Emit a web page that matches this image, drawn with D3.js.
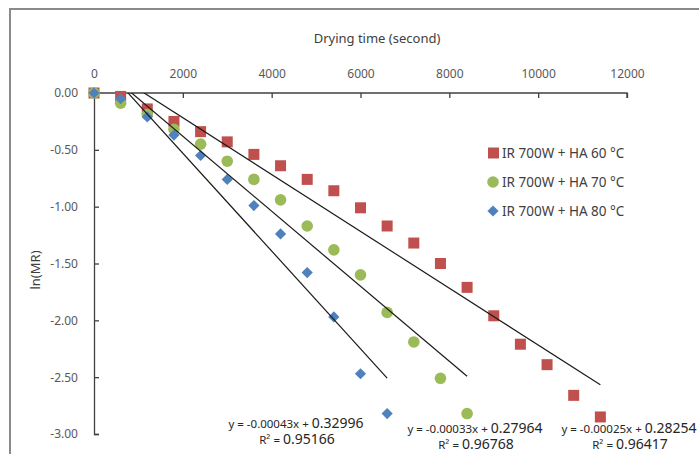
<!DOCTYPE html>
<html><head><meta charset="utf-8">
<script src="https://cdn.jsdelivr.net/npm/d3@7"></script>
<style>body{margin:0;background:#fff}svg{display:block}text{font-family:"Noto Sans","Open Sans",sans-serif}</style>
</head><body><svg id="c" width="699" height="454"></svg>
<script>
const times = [0,600,1200,1800,2400,3000,3600,4200,4800,5400,6000,6600,7200,7800,8400,9000,9600,10200,10800,11400];
const ha60 = [0,-0.03,-0.14,-0.25,-0.34,-0.43,-0.54,-0.64,-0.76,-0.86,-1.01,-1.17,-1.32,-1.50,-1.71,-1.96,-2.21,-2.39,-2.66,-2.85];
const ha70 = [0,-0.09,-0.19,-0.32,-0.45,-0.60,-0.76,-0.94,-1.17,-1.38,-1.60,-1.93,-2.19,-2.51,-2.82];
const ha80 = [0,-0.05,-0.21,-0.37,-0.55,-0.76,-0.99,-1.24,-1.58,-1.97,-2.47,-2.82];
const seriesNames = ["IR 700W + HA 60 °C","IR 700W + HA 70 °C","IR 700W + HA 80 °C"];
const slopes = [-0.00025,-0.00033,-0.00043];
const intercepts = [0.28254,0.27964,0.32996];
const r2 = ["0.96417","0.96768","0.95166"];
const xTicks = [0,2000,4000,6000,8000,10000,12000];
const yTicks = [0,-0.5,-1,-1.5,-2,-2.5,-3];

const colors = ["#C0504D","#9BBB59","#4F81BD"];
const svg = d3.select("#c");
svg.append("rect").attr("x",10).attr("y",9).attr("width",720).attr("height",480)
  .attr("fill","#fff").attr("stroke","#8a8a8a").attr("stroke-width",2);

const x = d3.scaleLinear().domain([0,12000]).range([94,627]);
const y = d3.scaleLinear().domain([-3,0]).range([434,93]);

const xa = svg.append("g").attr("transform",`translate(0,${y(0)})`)
  .call(d3.axisTop(x).tickValues(xTicks).tickSizeInner(-5).tickSizeOuter(-5).tickPadding(15).tickFormat(d3.format("d")));
const ya = svg.append("g").attr("transform",`translate(${x(0)},0)`)
  .call(d3.axisLeft(y).tickValues(yTicks).tickSizeInner(-5).tickSizeOuter(-5).tickPadding(16).tickFormat(d=>d.toFixed(2)));
[xa,ya].forEach(a=>{
  a.selectAll("path,line").attr("stroke","#404040").attr("stroke-width",1.3);
  a.selectAll("text").attr("fill","#595959").attr("font-size",12).attr("font-family","'Noto Sans',sans-serif");
});
xa.select(".domain").attr("d",`M${x(0)},0H${x(12000)}V5`);

svg.append("text").attr("x",377).attr("y",43).attr("text-anchor","middle")
  .attr("font-size",13).attr("fill","#404040").text("Drying time (second)");
svg.append("text").attr("transform","translate(40,270) rotate(-90)").attr("text-anchor","middle")
  .attr("font-size",13).attr("fill","#404040").text("ln(MR)");

const data = [ha60,ha70,ha80];
const g = svg.append("g");
g.selectAll(".sq").data(ha60).join("rect")
  .attr("x",(d,i)=>x(times[i])-5.5).attr("y",d=>y(d)-5.5).attr("width",11).attr("height",11).attr("fill",colors[0]);
g.selectAll(".ci").data(ha70).join("circle")
  .attr("cx",(d,i)=>x(times[i])).attr("cy",d=>y(d)).attr("r",5.8).attr("fill",colors[1]);
g.selectAll(".di").data(ha80).join("path")
  .attr("d",d3.symbol(d3.symbolDiamond2,80))
  .attr("transform",(d,i)=>`translate(${x(times[i])},${y(d)})`).attr("fill",colors[2]);

// trendlines
svg.append("clipPath").attr("id","pc").append("rect").attr("x",94).attr("y",93).attr("width",540).attr("height",345);
const tl = svg.append("g").attr("clip-path","url(#pc)");
data.forEach((s,k)=>{
  const xmax = times[s.length-1];
  tl.append("line").attr("x1",x(0)).attr("y1",y(intercepts[k]))
    .attr("x2",x(xmax)).attr("y2",y(slopes[k]*xmax+intercepts[k]))
    .attr("stroke","#1a1a1a").attr("stroke-width",1.2);
});

// legend
const lg = svg.append("g");
seriesNames.forEach((n,k)=>{
  const ly = 153 + k*29;
  if(k===0) lg.append("rect").attr("x",488).attr("y",ly-5.5).attr("width",11).attr("height",11).attr("fill",colors[0]);
  if(k===1) lg.append("circle").attr("cx",493).attr("cy",ly).attr("r",5.8).attr("fill",colors[1]);
  if(k===2) lg.append("path").attr("d",d3.symbol(d3.symbolDiamond2,80)).attr("transform",`translate(493,${ly})`).attr("fill",colors[2]);
  lg.append("text").attr("x",502).attr("y",ly+5).attr("font-size",13.5).attr("fill","#404040").text(n);
});

// equations
const eqPos = [[296,428],[475,433],[629,433]].reverse();
slopes.forEach((s,k)=>{
  const [cx,cy] = eqPos[k];
  const t = svg.append("text").attr("x",cx).attr("y",cy).attr("text-anchor","middle").attr("fill","#262626");
  t.append("tspan").attr("font-size",11.5).text(`y = ${s.toFixed(5)}x + `);
  t.append("tspan").attr("font-size",14).text(intercepts[k].toFixed(5));
  const t2 = svg.append("text").attr("x",cx+1).attr("y",cy+16).attr("text-anchor","middle").attr("fill","#262626");
  t2.append("tspan").attr("font-size",11.5).text("R² = ");
  t2.append("tspan").attr("font-size",14).text(r2[k]);
});
</script></body></html>
